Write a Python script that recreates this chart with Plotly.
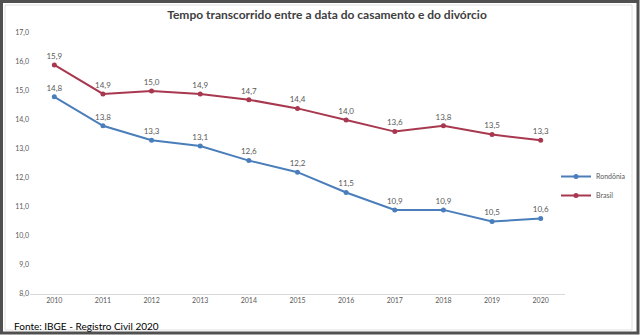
import plotly.graph_objects as go

anos = [2010, 2011, 2012, 2013, 2014, 2015, 2016, 2017, 2018, 2019, 2020]
rondonia = [14.8, 13.8, 13.3, 13.1, 12.6, 12.2, 11.5, 10.9, 10.9, 10.5, 10.6]
brasil = [15.9, 14.9, 15.0, 14.9, 14.7, 14.4, 14.0, 13.6, 13.8, 13.5, 13.3]
y_ticks = [8, 9, 10, 11, 12, 13, 14, 15, 16, 17]

W, H = 640, 335
L, R, T, B = 30, 75, 33, 41
pw, ph = W - L - R, H - T - B


def px(x):
    return (x - L) / pw


def py(y):
    return (H - B - y) / ph


fig = go.Figure()
for name, vals, color in [("Rondônia", rondonia, "#4A7EBB"), ("Brasil", brasil, "#A8384F")]:
    fig.add_trace(go.Scatter(
        x=anos, y=vals, name=name, mode="lines+markers+text",
        line=dict(color=color, width=2),
        marker=dict(color=color, size=5),
        texttemplate="%{y:.1f}", textposition="top center",
        textfont=dict(family="Lato", size=8, color="#595959"),
        cliponaxis=False,
    ))

fig.update_layout(
    width=W, height=H,
    margin=dict(l=L, r=R, t=T, b=B, autoexpand=False),
    paper_bgcolor="white", plot_bgcolor="white",
    separators=",.",
    title=dict(text="<b>Tempo transcorrido entre a data do casamento e do divórcio</b>",
               x=(327) / W, xanchor="center", y=1 - 15 / H, yanchor="middle",
               font=dict(family="Lato", size=12, color="#404040")),
    xaxis=dict(range=[2009.5, 2020.5], tickvals=anos, ticktext=[str(a) for a in anos],
               showgrid=False, showline=True, linecolor="#D9D9D9", linewidth=1,
               zeroline=False, ticks="",
               tickfont=dict(family="Lato", size=7, color="#595959")),
    yaxis=dict(range=[8, 17], tickvals=y_ticks, tickformat=".1f",
               showgrid=False, showline=False, zeroline=False, ticks="",
               tickfont=dict(family="Lato", size=7, color="#595959")),
    legend=dict(x=px(556), y=py(162), xanchor="left", yanchor="top",
                font=dict(family="Lato", size=7, color="#595959"),
                bgcolor="rgba(0,0,0,0)", itemwidth=30, tracegroupgap=2),
    showlegend=True,
    shapes=[
        dict(type="rect", xref="paper", yref="paper",
             x0=px(1.5), x1=px(638), y0=py(1.5), y1=py(333),
             line=dict(color="#505050", width=3), layer="above"),
        dict(type="rect", xref="paper", yref="paper",
             x0=px(5), x1=px(632), y0=py(5), y1=py(330),
             line=dict(color="#E0E0E0", width=1), layer="below"),
    ],
    annotations=[
        dict(text="Fonte: IBGE - Registro Civil 2020", xref="paper", yref="paper",
             x=px(12), y=py(326), xanchor="left", yanchor="middle", showarrow=False,
             font=dict(family="Lato", size=10, color="#000000")),
    ],
)

fig.write_html("out.html")
